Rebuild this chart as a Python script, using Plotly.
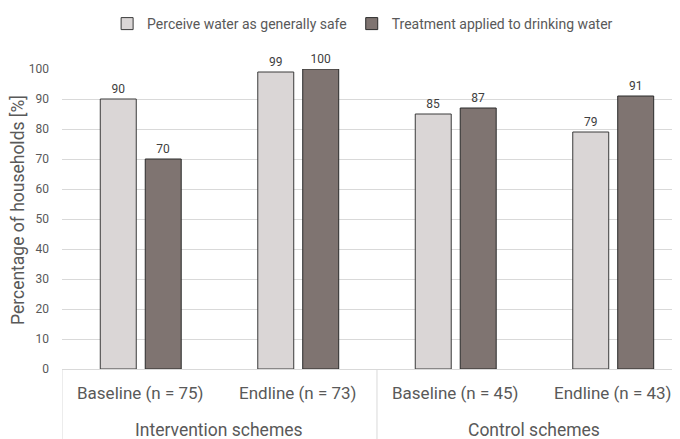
import plotly.graph_objects as go

groups = ["Intervention schemes", "Control schemes"]
group_members = [[0, 1], [2, 3]]
categories = ["Baseline (n = 75)", "Endline (n = 73)", "Baseline (n = 45)", "Endline (n = 43)"]
perceive_safe = [90, 99, 85, 79]
treatment_applied = [70, 100, 87, 91]
series_names = ["Perceive water as generally safe", "Treatment applied to drinking water"]
y_ticks = list(range(0, 101, 10))

FONT = "Roboto, Open Sans, sans-serif"
TXT = "#595959"
GRID = "#D9D9D9"
xpos = list(range(len(categories)))

fig = go.Figure()
fig.add_trace(go.Bar(
    x=xpos, y=perceive_safe, name=series_names[0],
    marker=dict(color="#DAD6D6", line=dict(color="#3A3A3A", width=1)),
    text=perceive_safe, textposition="outside",
    textfont=dict(size=12, color="#404040", family=FONT), cliponaxis=False,
))
fig.add_trace(go.Bar(
    x=xpos, y=treatment_applied, name=series_names[1],
    marker=dict(color="#7F7471", line=dict(color="#2A2A2A", width=1)),
    text=treatment_applied, textposition="outside",
    textfont=dict(size=12, color="#404040", family=FONT), cliponaxis=False,
))

annotations = []
for xi, lab in zip(xpos, categories):
    annotations.append(dict(x=xi, xref="x", y=0, yref="paper", yanchor="middle",
                            yshift=-24, text=lab, showarrow=False,
                            font=dict(size=17, color=TXT, family=FONT)))
for g, members in zip(groups, group_members):
    annotations.append(dict(x=sum(members) / len(members), xref="x", y=0, yref="paper",
                            yanchor="middle", yshift=-61, text=g, showarrow=False,
                            font=dict(size=17.5, color=TXT, family=FONT)))
annotations.append(dict(x=0, xref="paper", xanchor="center", xshift=-44, y=0.5, yref="paper",
                        yanchor="middle", yshift=9,
                        text="Percentage of households [%]", textangle=-90, showarrow=False,
                        font=dict(size=17.5, color=TXT, family=FONT)))

shapes = []
for members in group_members:
    xb = members[0] - 0.5
    shapes.append(dict(type="line", xref="x", yref="paper", x0=xb, x1=xb, y0=0, y1=-0.3,
                       line=dict(color=GRID, width=1)))

fig.update_layout(
    width=672, height=431,
    margin=dict(l=54, r=0, t=61, b=70, autoexpand=False),
    plot_bgcolor="white", paper_bgcolor="white",
    barmode="group", bargap=0.429, bargroupgap=0.2,
    font=dict(family=FONT, color=TXT),
    legend=dict(orientation="h", x=0.073, xanchor="left", y=1.0, yanchor="top",
                yref="container", font=dict(size=14, color=TXT),
                itemwidth=30, traceorder="normal"),
    xaxis=dict(range=[-0.5, 3.424], tickvals=xpos, showticklabels=False,
               showline=True, linecolor=GRID, linewidth=1, showgrid=False,
               zeroline=False, ticks="", automargin=False),
    yaxis=dict(range=[0, 100], tickvals=y_ticks, showgrid=True, gridcolor=GRID,
               tickfont=dict(size=12, color=TXT, family=FONT), zeroline=False,
               ticklabelstandoff=12, automargin=False),
    annotations=annotations,
    shapes=shapes,
)
fig.write_html("out.html")
